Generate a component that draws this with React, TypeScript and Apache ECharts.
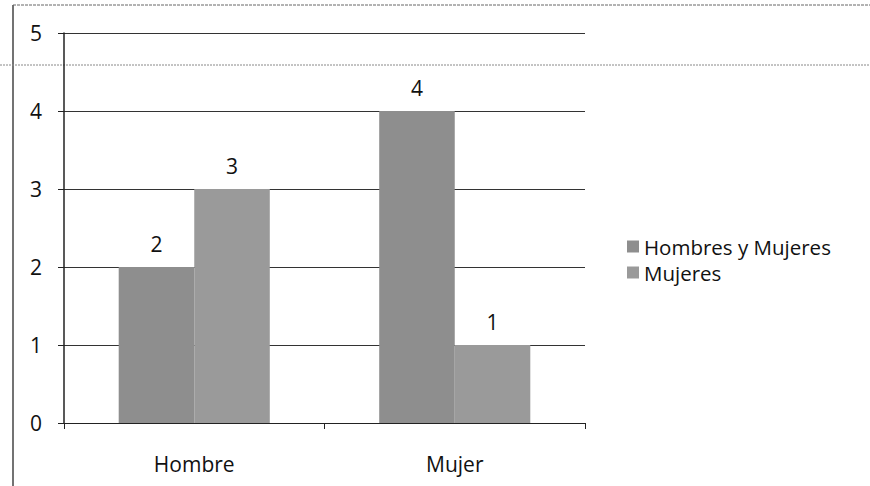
import React, { useEffect, useRef } from "react";
import * as echarts from "echarts";

const categories = ["Hombre", "Mujer"];
const seriesNames = ["Hombres y Mujeres", "Mujeres"];
const hombresYMujeres = [2, 4];
const mujeres = [3, 1];
const yTicks = [0, 1, 2, 3, 4, 5];

export default function App() {
  const ref = useRef<HTMLDivElement>(null);
  useEffect(() => {
    if (!ref.current) return;
    const chart = echarts.init(ref.current, null, { renderer: "svg" });
    const font = "'Open Sans', 'Liberation Sans', sans-serif";
    const label = {
      show: true,
      position: "top",
      color: "#111",
      fontSize: 21,
      fontFamily: font,
      distance: 13,
    };
    chart.setOption({
      animation: false,
      backgroundColor: "#fff",
      grid: { left: 64, right: 285, top: 33, bottom: 63 },
      legend: {
        orient: "vertical",
        left: 622,
        top: 231,
        itemWidth: 12,
        itemHeight: 12,
        itemGap: 5,
        icon: "rect",
        textStyle: { fontSize: 20.5, color: "#111", fontFamily: font, lineHeight: 20 },
        data: seriesNames,
      },
      xAxis: {
        type: "category",
        data: categories,
        axisLine: { lineStyle: { color: "#222", width: 1 } },
        axisTick: { show: true, length: 6, lineStyle: { color: "#222" } },
        axisLabel: { fontSize: 21, color: "#111", fontFamily: font, margin: 30 },
      },
      yAxis: {
        type: "value",
        min: yTicks[0],
        max: yTicks[yTicks.length - 1],
        interval: 1,
        axisLine: { show: true, lineStyle: { color: "#222", width: 1.5 } },
        axisTick: { show: true, length: 6, lineStyle: { color: "#222" } },
        axisLabel: { fontSize: 21, color: "#111", fontFamily: font, margin: 22 },
        splitLine: { lineStyle: { color: "#333", width: 1 } },
      },
      series: [
        {
          name: seriesNames[0],
          type: "bar",
          data: hombresYMujeres,
          barGap: "0%",
          barCategoryGap: "42%",
          itemStyle: { color: "#8e8e8e" },
          label,
        },
        {
          name: seriesNames[1],
          type: "bar",
          data: mujeres,
          barGap: "0%",
          barCategoryGap: "42%",
          itemStyle: { color: "#9a9a9a" },
          label,
        },
      ],
      graphic: [
        {
          type: "line",
          shape: { x1: 13, y1: 5, x2: 13, y2: 486 },
          style: { stroke: "#444", lineWidth: 1.5 },
        },
        {
          type: "line",
          shape: { x1: 13, y1: 5, x2: 870, y2: 5 },
          style: { stroke: "#666", lineWidth: 1, lineDash: [3, 1] },
        },
        {
          type: "line",
          shape: { x1: 0, y1: 65, x2: 870, y2: 65 },
          style: { stroke: "#888", lineWidth: 1, lineDash: [2, 1] },
        },
      ],
    });
    return () => chart.dispose();
  }, []);
  return <div ref={ref} style={{ width: 870, height: 486, position: "absolute", left: 0, top: 0 }} />;
}
